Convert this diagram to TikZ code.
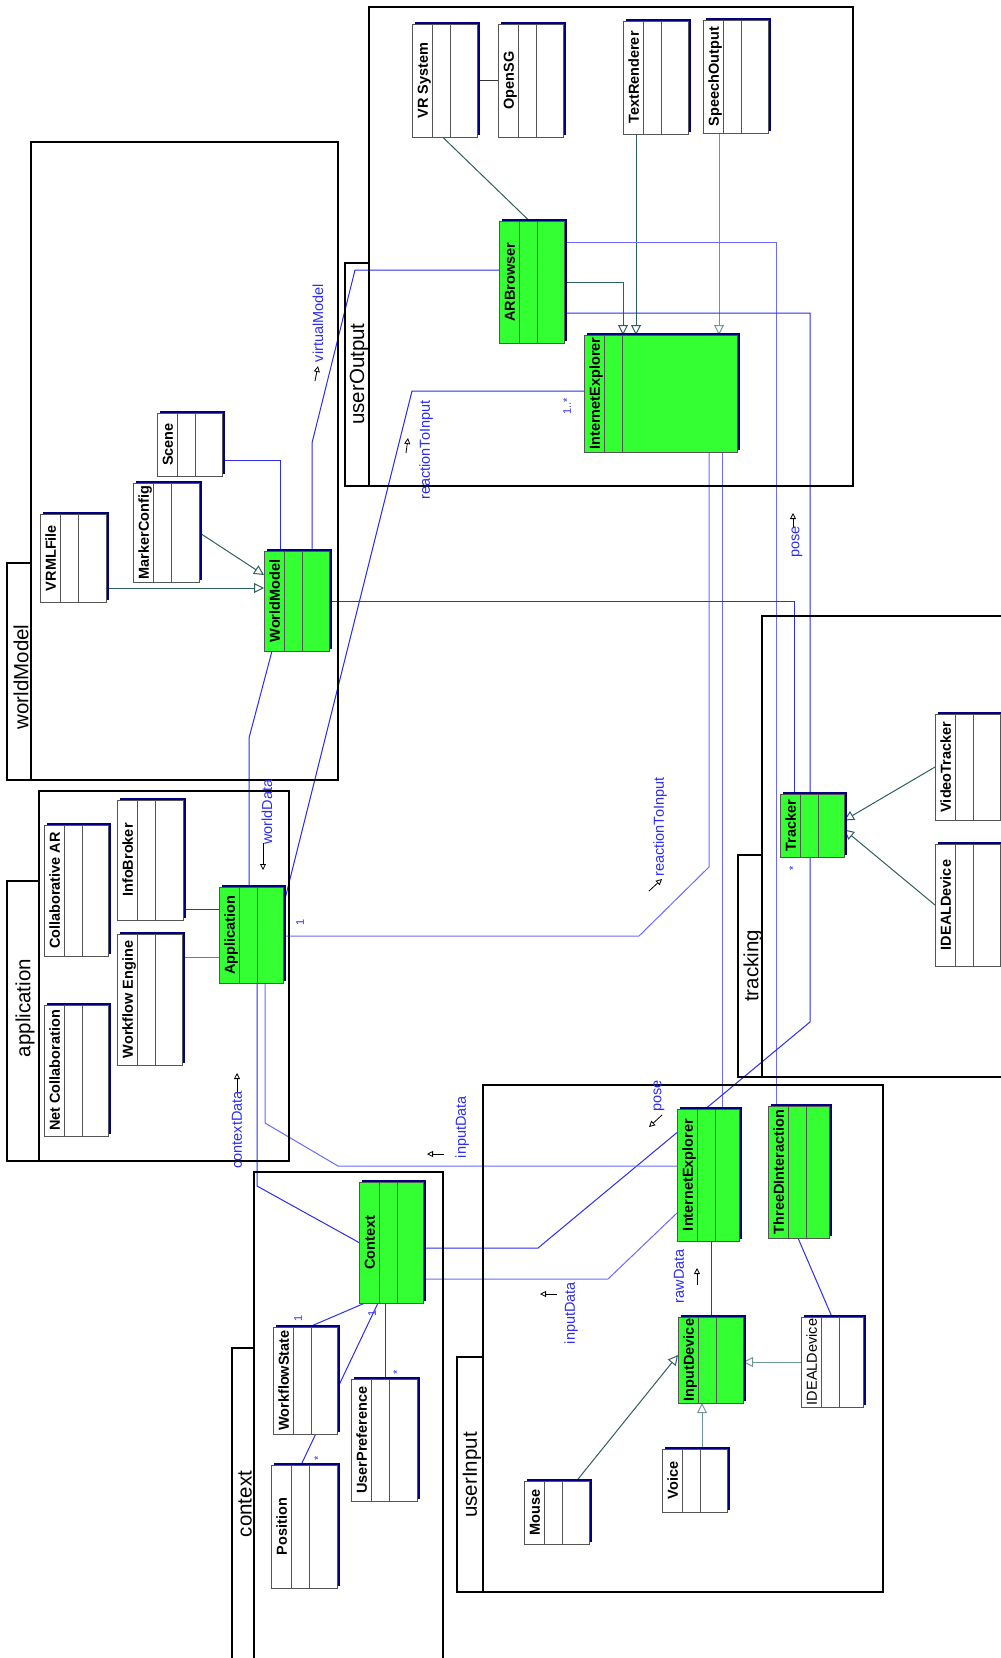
\documentclass[tikz,border=0pt]{standalone}
\usepackage{fontspec}
\setmainfont{Liberation Sans}
\usepackage{xcolor}
\usepackage{tikz}
\usetikzlibrary{backgrounds, arrows.meta}
\definecolor{clsG}{HTML}{33FF33}
\definecolor{shadN}{HTML}{000080}
\definecolor{edgeG}{HTML}{555555}
\definecolor{asoB}{HTML}{2C2CF2}
\definecolor{asoL}{HTML}{6A6AFF}
\definecolor{genT}{HTML}{2F5F5F}
\definecolor{genL}{HTML}{6F9999}

\begin{document}
\begin{tikzpicture}[x=1pt,y=-1pt,
  pkg/.style={draw=black,line width=2.4pt},
  pkgname/.style={rotate=90,font=\fontsize{20.5}{24}\selectfont,inner sep=0pt},
  clsbox/.style={draw=edgeG,line width=0.9pt,inner sep=0pt,outer sep=0pt,anchor=north west},
  cmp/.style={edgeG,line width=0.9pt},
  clsname/.style={rotate=90,font=\fontsize{14.5}{16}\selectfont\bfseries,inner sep=0pt,
     text height=10.5pt,text depth=3pt},
  aso/.style={asoB,line width=1pt},
  asol/.style={asoL,line width=1pt},
  gen/.style={genT,line width=1pt,-{Triangle[open,length=10pt,width=10pt]}},
  lab/.style={asoB,rotate=90,font=\fontsize{14.5}{16}\selectfont,inner sep=0pt},
  mult/.style={asoB,rotate=90,font=\fontsize{11}{12}\selectfont,inner sep=0pt},
  nav/.style={black,line width=0.8pt,-{Triangle[open,length=6pt,width=6pt]}}]
  \useasboundingbox (0,0) rectangle (1001,1658);
  % packages: body, tab, name
  \foreach \pk/\bxa/\bya/\bxb/\byb/\txa/\tya/\lx/\ly in {
     userOutput/369/7/853/486/345/263/359/374,
     worldModel/31/142/338/780/7/563/21/677,
     application/39/791/289/1161/7/881/25/1008,
     tracking/762/616/1015/1077/738/855/753/966,
     userInput/483/1085/883/1592/457/1357/472/1475,
     context/254/1172/443/1675/232/1348/245/1504}{
     \draw[pkg] (\bxa,\bya) rectangle (\bxb,\byb);
     \draw[pkg] (\txa,\tya) rectangle (\bxa,\byb);
     \node[pkgname] (pk-\pk) at (\lx,\ly) {\pk};
  }
  % plain classes
  \foreach \nm/\xa/\ya/\xb/\yb/\txt in {
     vrsys/412/24/477/137/VR System, opensg/498/24/563/137/OpenSG,
     txtren/623/21/688/134/TextRenderer, speech/703/20/768/133/SpeechOutput,
     vrml/40/514/106/602/VRMLFile, marker/133/483/199/582/MarkerConfig,
     scene/157/413/222/476/Scene,
     collab/44/825/108/956/Collaborative AR, infob/117/800/183/920/InfoBroker,
     netcol/44/1005/108/1136/Net Collaboration, wfeng/117/934/182/1065/Workflow Engine,
     vidtrk/935/714/1000/820/VideoTracker, idealt/935/844/1000/966/IDEALDevice,
     ideali/801/1317/863/1407/{\mdseries IDEALDevice},
     mouse/524/1481/589/1544/Mouse, voice/662/1449/727/1512/Voice,
     wfstate/273/1327/337/1434/WorkflowState, userpref/351/1379/417/1501/UserPreference,
     posn/271/1465/337/1588/Position}{
     \fill[shadN] (\xa+2.5,\ya-2.5) rectangle (\xb+2.5,\yb-2.5);
     \node[clsbox,fill=white,minimum width={(\xb-\xa)*1pt},minimum height={(\yb-\ya)*1pt}]
        (\nm) at (\xa,\ya) {};
     \draw[cmp] ([xshift=20pt]\nm.north west) -- ([xshift=20pt]\nm.south west)
        ([xshift=38pt]\nm.north west) -- ([xshift=38pt]\nm.south west);
     \node[clsname] (\nm-n) at ([xshift=12pt]\nm.west) {\txt};
  }
  % green classes
  \foreach \nm/\xa/\ya/\xb/\yb/\txt in {
     arb/499/221/564/343/ARBrowser, ieo/584/335/737/452/InternetExplorer,
     wmod/264/551/329/651/WorldModel, app/219/887/283/983/Application,
     trk/780/794/844/857/Tracker, iei/677/1109/739/1241/InternetExplorer,
     threed/768/1106/829/1238/ThreeDInteraction, indev/678/1317/743/1403/InputDevice,
     ctx/359/1182/423/1303/Context}{
     \fill[shadN] (\xa+2.5,\ya-2.5) rectangle (\xb+2.5,\yb-2.5);
     \node[clsbox,fill=clsG,minimum width={(\xb-\xa)*1pt},minimum height={(\yb-\ya)*1pt}]
        (\nm) at (\xa,\ya) {};
     \draw[cmp] ([xshift=20pt]\nm.north west) -- ([xshift=20pt]\nm.south west)
        ([xshift=38pt]\nm.north west) -- ([xshift=38pt]\nm.south west);
     \node[clsname] (\nm-n) at ([xshift=12pt]\nm.west) {\txt};
  }
  % bend points
  \coordinate (vm1) at (312,443);
  \coordinate (vm2) at (355,270);
  \coordinate (wd1) at (249,738);
  \coordinate (ri1) at (412,391);
  \coordinate (ri2) at (709,867);
  \coordinate (ri3) at (639,936);
  \coordinate (ps1) at (810,1022);
  \coordinate (ps2) at (538,1248);
  \coordinate (cd1) at (257,1186);
  \coordinate (id1) at (265,1123);
  \coordinate (id2) at (338,1166);
  \coordinate (id3) at (608,1279);
  \begin{scope}[on background layer]
     \fill[white] (0,0) rectangle (1001,1658);
     % generalisations
     \draw[gen] (arb.east) -| ([xshift=39pt]ieo.north west);
     \draw[gen] ([xshift=13pt]txtren.south west) -- ([xshift=52pt]ieo.north west);
     \draw[gen,genL] ([xshift=16pt]speech.south west) -- ([xshift=135pt]ieo.north west);
     \draw[gen] ([yshift=-30pt]vrml.east) -- ([yshift=13pt]wmod.west);
     \draw[gen] (marker.east) -- ([yshift=26pt]wmod.west);
     \draw[gen] (vidtrk.west) -- ([yshift=5pt]trk.east);
     \draw[gen] (idealt.west) -- ([yshift=-4pt]trk.east);
     \draw[gen] ([xshift=20pt]mouse.north) -- ([yshift=5pt]indev.west);
     \draw[gen,genL] ([xshift=7.5pt]voice.north) -- ([xshift=24pt]indev.south west);
     \draw[gen,genL] (ideali.west) -- (ideali.west -| indev.east);
     % associations
     \draw[black!80,line width=1pt] (vrsys.east) -- (opensg.west);
     \draw[genT,line width=1pt] ([xshift=-2pt]vrsys.south) -- ([xshift=-2pt]arb.north);
     \draw[aso] ([yshift=-16pt]scene.east) -| ([xshift=16pt]wmod.north west);
     \draw[aso] ([xshift=48pt]wmod.north west) -- (vm1) -- (vm2) -- (vm2 -| arb.west);
     \draw[aso] ([xshift=8pt]wmod.south west) -- (wd1) -- (wd1 |- app.north);
     \draw[aso] ([yshift=28pt]app.east) -- (ri1) -- (ri1 -| ieo.west);
     \draw[asol] ([xshift=125pt]ieo.south west) -- (ri2) -- (ri3) -- (ri3 -| app.east);
     \draw[asol] ([xshift=138pt]ieo.south west) -- ([xshift=138pt]ieo.south west |- iei.north);
     \draw[asol] ([yshift=40pt]arb.east) -| ([xshift=8pt]threed.north west);
     \draw[aso] ([yshift=-31pt]arb.east) -| (ps1) -- (ps2) -- (ps2 -| ctx.east);
     \draw[aso] (wmod.east) -| ([xshift=14pt]trk.north west);
     \draw[aso] ([xshift=38pt]app.south west) -- (cd1) -- (ctx.west);
     \draw[asol] ([xshift=46pt]app.south west) -- (id1) -- (id2) -- (id2 -| iei.west);
     \draw[asol] ([yshift=-36.5pt]ctx.east) -- (id3) -- ([yshift=-38pt]iei.west);
     \draw[aso] ([xshift=34pt]iei.south west) -- ([xshift=34pt]iei.south west |- indev.north);
     \draw[aso] ([xshift=30pt]threed.south west) -- ([xshift=31pt]ideali.north west);
     \draw[aso] ([yshift=26pt]app.west) -- ([yshift=26pt]app.west -| infob.east);
     \draw[asol] ([yshift=-22pt]app.west) -- ([yshift=-22pt]app.west -| wfeng.east);
     \draw[aso] ([xshift=6pt]ctx.south west) -- ([xshift=36pt]wfstate.north west);
     \draw[aso] ([xshift=19pt]ctx.south west) -- ([xshift=30pt]posn.north west);
     \draw[aso] ([xshift=26pt]ctx.south west) -- ([xshift=26pt]ctx.south west |- userpref.north);
  \end{scope}
  % role names
  \node[lab] (lb-vm) at (318,323) {virtualModel};
  \node[lab] (lb-wd) at (267,812) {worldData};
  \node[lab] (lb-ri1) at (426,450) {reactionToInput};
  \node[lab] (lb-ri2) at (660,827) {reactionToInput};
  \node[lab] (lb-ps1) at (797,542) {pose};
  \node[lab] (lb-ps2) at (659,1096) {pose};
  \node[lab] (lb-id1) at (462,1127) {inputData};
  \node[lab] (lb-id2) at (571,1313) {inputData};
  \node[lab] (lb-rd) at (679,1276) {rawData};
  \node[lab] (lb-cd) at (237,1130) {contextData};
  % navigation marks
  \draw[nav] (315,381) -- (318,366);
  \draw[nav] (406,453) -- (408,438);
  \draw[nav] (649,891) -- (662,879);
  \draw[nav] (793,527) -- (793,513);
  \draw[nav] (662,1115) -- (649,1127);
  \draw[nav] (444,1154) -- (427,1154);
  \draw[nav] (557,1294) -- (540,1294);
  \draw[nav] (697,1285) -- (697,1268);
  \draw[nav] (263,843) -- (263,870);
  \draw[nav] (237,1092) -- (237,1073);
  % multiplicities
  \node[mult] (m-ieo) at (567,406) {1..*};
  \node[mult] (m-app) at (300,922) {1};
  \node[mult] (m-trk) at (793,868) {*};
  \node[mult] (m-wfs) at (298,1318) {1};
  \node[mult] (m-pos1) at (372,1313) {1};
  \node[mult] (m-pos2) at (318,1458) {*};
  \node[mult] (m-upr) at (397,1372) {*};
\end{tikzpicture}
\end{document}
